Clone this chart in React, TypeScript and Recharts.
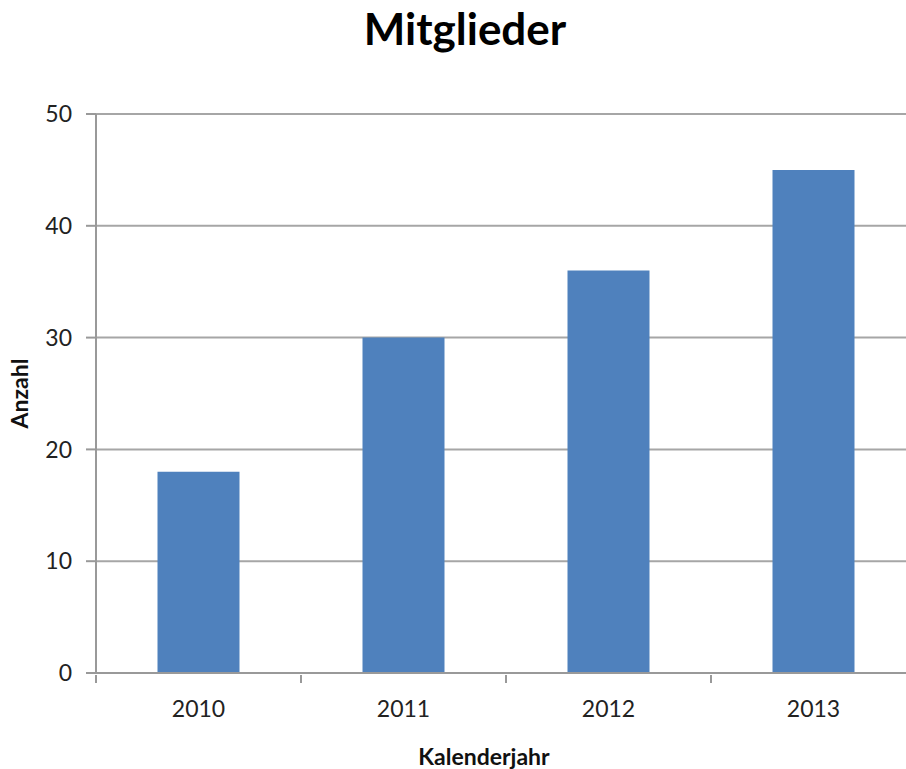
import React from "react";
import { BarChart, Bar, XAxis, YAxis, CartesianGrid, Label } from "recharts";

const years = ["2010", "2011", "2012", "2013"];
const members = [18, 30, 36, 45];
const yTicks = [0, 10, 20, 30, 40, 50];

const data = years.map((y, i) => ({ year: y, value: members[i] }));

const FONT = "Lato, 'Open Sans', sans-serif";
const HALF_BAND = 102.5;

function XTick(props: any) {
  const { x, y, payload } = props;
  return (
    <g>
      <line x1={x - HALF_BAND} x2={x - HALF_BAND} y1={y - 8} y2={y} stroke="#999" strokeWidth={2} />
      <line x1={x + HALF_BAND} x2={x + HALF_BAND} y1={y - 8} y2={y} stroke="#999" strokeWidth={2} />
      <text x={x} y={y + 34} textAnchor="middle" fill="#222" fontSize={23} fontFamily={FONT}>
        {payload.value}
      </text>
    </g>
  );
}

export default function App() {
  return (
    <div style={{ position: "absolute", left: 0, top: 0, width: 906, height: 769, overflow: "hidden", background: "#fff" }}>
      <div
        style={{
          position: "absolute",
          left: 0,
          width: 930,
          top: -2,
          textAlign: "center",
          fontFamily: FONT,
          fontWeight: 700,
          fontSize: 44,
          lineHeight: "60px",
          color: "#000",
        }}
      >
        Mitglieder
      </div>
      <div style={{ position: "absolute", left: 0, top: 0 }}>
        <BarChart
          width={930}
          height={769}
          data={data}
          margin={{ top: 114, right: 14, bottom: 0, left: 0 }}
          barCategoryGap="30%"
        >
          <CartesianGrid vertical={false} stroke="#a6a6a6" strokeWidth={2} />
          <XAxis
            dataKey="year"
            stroke="#999"
            strokeWidth={2}
            tickLine={false}
            tickSize={8}
            tick={<XTick />}
            height={96}
          >
            <Label
              value="Kalenderjahr"
              position="insideBottom"
              offset={4}
              dx={-22}
              style={{ fontFamily: FONT, fontWeight: 700, fontSize: 23, fill: "#111" }}
            />
          </XAxis>
          <YAxis
            width={96}
            domain={[0, 50]}
            ticks={yTicks}
            interval={0}
            stroke="#999"
            strokeWidth={2}
            tickSize={10}
            tickMargin={14}
            tick={{ fill: "#222", fontSize: 23, fontFamily: FONT }}
          >
            <Label
              value="Anzahl"
              angle={-90}
              position="insideLeft"
              offset={20}
              dy={0}
              style={{ fontFamily: FONT, fontWeight: 700, fontSize: 23, fill: "#111", textAnchor: "middle" }}
            />
          </YAxis>
          <Bar dataKey="value" fill="#4f81bd" isAnimationActive={false} />
        </BarChart>
      </div>
    </div>
  );
}
